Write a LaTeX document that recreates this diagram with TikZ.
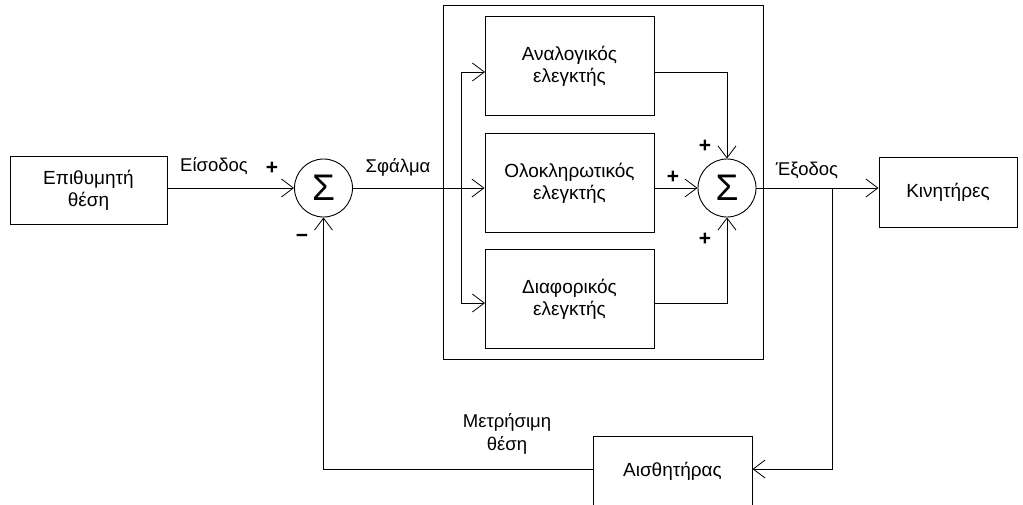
\documentclass[tikz,border=0pt]{standalone}
\usepackage{fontspec}
\setmainfont{Liberation Sans}
\usetikzlibrary{arrows.meta}
\begin{document}
\begin{tikzpicture}[x=1pt,y=-1pt,line width=1pt,
  blk/.style={draw,line width=1pt,align=center,inner sep=0pt,font=\fontsize{19}{22}\selectfont},
  sumnode/.style={draw,circle,line width=0.9pt,minimum size=58pt,inner sep=0pt,font=\fontsize{37}{37}\selectfont},
  lbl/.style={inner sep=0pt,font=\fontsize{18.5}{23}\selectfont,align=center},
  sgn/.style={inner sep=0pt,font=\bfseries\fontsize{21}{21}\selectfont},
  arr/.style={-{Straight Barb[length=12pt,width=18pt,line width=0.8pt]}}]
\useasboundingbox (0,0) rectangle (1023,504);
\begin{scope}
\clip (0,0) rectangle (1023,504);
% blocks
\node[blk,minimum width=157pt,minimum height=68pt] (goal) at (88.5,190) {Επιθυμητή\\θέση};
\node[sumnode] (s1) at (323.5,188) {Σ};
\node[draw,line width=1pt,minimum width=320pt,minimum height=354pt,inner sep=0pt] (pid) at (603,182) {};
\node[blk,minimum width=169pt,minimum height=99pt] (P) at (569.5,66) {Αναλογικός\\ελεγκτής};
\node[blk,minimum width=169pt,minimum height=99pt] (I) at (569.5,183) {Ολοκληρωτικός\\ελεγκτής};
\node[blk,minimum width=169pt,minimum height=99pt] (D) at (569.5,299) {Διαφορικός\\ελεγκτής};
\node[sumnode] (s2) at (727,188) {Σ};
\node[blk,minimum width=138pt,minimum height=70pt] (act) at (948,192) {Κινητήρες};
\node[blk,minimum width=159pt,minimum height=70pt] (sens) at (672.5,471) {Αισθητήρας};
% helper coordinates
\coordinate (split) at (461,188);
\coordinate (Pin) at (485,72);
\coordinate (Dinp) at (485,303);
\coordinate (Pout) at (654,72);
\coordinate (Dout) at (654,303);
\coordinate (branch) at (832,188);
\coordinate (fbR) at (832,469);
\coordinate (fbL) at (323.5,469);
% connectors
\draw[arr] (goal.east |- s1) -- (s1.west);
\draw[arr] (s1.east) -- (I.west |- s1);
\draw[arr] (split) |- (Pin);
\draw[arr] (split) |- (Dinp);
\draw[arr] (Pout) -| (s2.north);
\draw[arr] (Dout) -| (s2.south);
\draw[arr] (I.east |- s2) -- (s2.west);
\draw[arr] (s2.east) -- (act.west |- s2);
\draw[arr] (branch) -- (fbR) -- (sens.east |- fbR);
\draw[arr] (sens.west |- fbL) -- (fbL) -- (s1.south);
% labels
\node[lbl] (in) at (214,166) {Είσοδος};
\node[sgn] (p1) at (272,168) {+};
\node[sgn] (m1) at (302,238) {\textminus};
\node[lbl] (err) at (398,167) {Σφάλμα};
\node[sgn] (p2) at (705,146) {+};
\node[sgn] (p3) at (673,177) {+};
\node[sgn] (p4) at (705,239) {+};
\node[lbl] (out) at (807,170) {Έξοδος};
\node[lbl] (meas) at (507,434) {Μετρήσιμη\\θέση};
\end{scope}
\end{tikzpicture}
\end{document}
